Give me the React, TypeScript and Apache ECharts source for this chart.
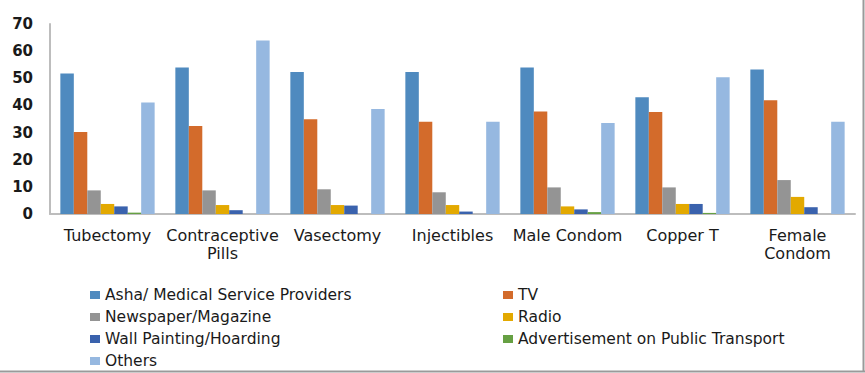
import React, { useEffect, useRef } from "react";
import * as echarts from "echarts";

const categories = [
  "Tubectomy",
  "Contraceptive\nPills",
  "Vasectomy",
  "Injectibles",
  "Male Condom",
  "Copper T",
  "Female\nCondom",
];

const seriesNames = [
  "Asha/ Medical Service Providers",
  "TV",
  "Newspaper/Magazine",
  "Radio",
  "Wall Painting/Hoarding",
  "Advertisement on Public Transport",
  "Others",
];

const asha = [51.8, 54.0, 52.3, 52.3, 54.0, 43.0, 53.2];
const tv = [30.2, 32.4, 34.9, 34.0, 37.8, 37.6, 41.9];
const newspaper = [8.7, 8.7, 9.1, 8.0, 9.8, 9.8, 12.5];
const radio = [3.7, 3.3, 3.3, 3.3, 2.8, 3.7, 6.3];
const wall = [2.8, 1.4, 3.1, 0.9, 1.7, 3.7, 2.5];
const advert = [0.5, 0, 0, 0, 0.7, 0.4, 0];
const others = [41.1, 63.9, 38.7, 34.0, 33.5, 50.4, 34.0];

const yTicks = [0, 10, 20, 30, 40, 50, 60, 70];

const colors = ["#4f8abf", "#d36b2b", "#949494", "#e3a900", "#3a62ad", "#66a043", "#96b8e0"];

export default function App() {
  const ref = useRef<HTMLDivElement>(null);
  useEffect(() => {
    if (!ref.current) return;
    const chart = echarts.init(ref.current, undefined, { renderer: "svg" });
    const values = [asha, tv, newspaper, radio, wall, advert, others];
    const legendText = { fontFamily: "DejaVu Sans", fontSize: 15.5, color: "#1a1a1a", lineHeight: 16 };
    const legendBase = {
      orient: "vertical",
      top: 287,
      height: 86,
      padding: 0,
      itemWidth: 10,
      itemHeight: 8,
      itemGap: 6,
      icon: "rect",
      textStyle: legendText,
    };
    chart.setOption({
      animation: false,
      backgroundColor: "#ffffff",
      color: colors,
      grid: { left: 50, right: 10, top: 24, bottom: 159, containLabel: false },
      legend: [
        {
          ...legendBase,
          left: 90,
          data: [seriesNames[0], seriesNames[2], seriesNames[4], seriesNames[6]],
        },
        {
          ...legendBase,
          left: 503,
          data: [seriesNames[1], seriesNames[3], seriesNames[5]],
        },
      ],
      xAxis: {
        type: "category",
        data: categories,
        axisLine: { lineStyle: { color: "#bdbdbd", width: 2 } },
        axisTick: { show: false },
        axisLabel: {
          interval: 0,
          margin: 12,
          fontFamily: "DejaVu Sans",
          fontSize: 16,
          lineHeight: 18,
          color: "#1a1a1a",
        },
      },
      yAxis: {
        type: "value",
        min: yTicks[0],
        max: yTicks[yTicks.length - 1],
        interval: 10,
        axisLine: { show: true, lineStyle: { color: "#bdbdbd", width: 2 } },
        axisTick: { show: false },
        splitLine: { show: false },
        axisLabel: {
          margin: 17,
          fontFamily: "DejaVu Sans",
          fontWeight: "bold",
          fontSize: 15,
          color: "#1a1a1a",
        },
      },
      series: seriesNames.map((name, i) => ({
        name,
        type: "bar",
        data: values[i],
        barGap: "0%",
        barCategoryGap: "18%",
        itemStyle: { color: colors[i] },
      })),
      graphic: [
        {
          type: "line",
          shape: { x1: 863.5, y1: 0, x2: 863.5, y2: 372 },
          style: { stroke: "#9a9a9a", lineWidth: 2 },
        },
        {
          type: "line",
          shape: { x1: 0, y1: 371.5, x2: 865, y2: 371.5 },
          style: { stroke: "#9a9a9a", lineWidth: 2 },
        },
      ],
    });
    return () => chart.dispose();
  }, []);
  return (
    <div
      ref={ref}
      style={{ position: "absolute", left: 0, top: 0, width: 865, height: 373 }}
    />
  );
}
